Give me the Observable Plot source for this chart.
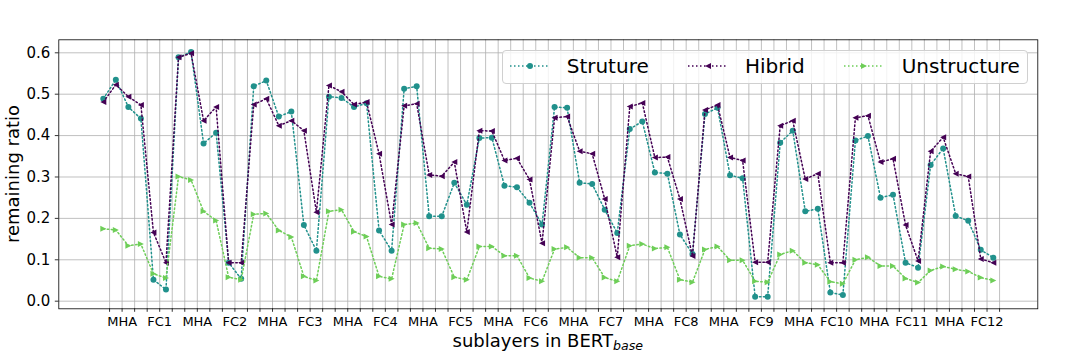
<!DOCTYPE html>
<html><head><meta charset="utf-8">
<script src="https://cdn.jsdelivr.net/npm/d3@7"></script>
<script src="https://cdn.jsdelivr.net/npm/@observablehq/plot@0.6"></script>
<style>
body{margin:0;background:#fff;}
#wrap{position:relative;width:1080px;height:360px;font-family:"DejaVu Sans",sans-serif;}
#legend{position:absolute;left:502px;top:50px;width:526px;height:34px;box-sizing:border-box;background:rgba(255,255,255,0.8);border:1px solid #d0d0d0;border-radius:4px;}
#legend svg{position:absolute;left:-1px;top:-1px;overflow:visible;}
</style></head><body><div id="wrap"><div id="legend"></div></div>
<script>
const series = ["Struture", "Hibrid", "Unstructure"];
const colors = ["#21918c", "#440154", "#6ece58"];
const sublayerLabels = ["", "MHA", "", "", "FC", ""];
const layerNames = ["1","2","3","4","5","6","7","8","9","10","11","12"];
const yTicks = [0.0, 0.1, 0.2, 0.3, 0.4, 0.5, 0.6];

const struture = [
  0.489,0.535,0.469,0.441,0.052,0.028,
  0.589,0.602,0.381,0.407,0.093,0.054,
  0.519,0.533,0.446,0.458,0.184,0.122,
  0.494,0.491,0.469,0.478,0.171,0.122,
  0.513,0.519,0.205,0.205,0.286,0.233,
  0.394,0.395,0.279,0.275,0.238,0.185,
  0.469,0.467,0.286,0.283,0.221,0.165,
  0.416,0.434,0.311,0.308,0.161,0.114,
  0.452,0.467,0.304,0.297,0.011,0.011,
  0.383,0.412,0.217,0.223,0.021,0.015,
  0.388,0.399,0.250,0.257,0.093,0.081,
  0.329,0.369,0.206,0.194,0.124,0.105];
const hibrid = [
  0.481,0.523,0.494,0.474,0.166,0.093,
  0.589,0.599,0.436,0.469,0.093,0.093,
  0.475,0.489,0.424,0.436,0.412,0.215,
  0.521,0.506,0.475,0.481,0.356,0.185,
  0.472,0.477,0.305,0.302,0.336,0.167,
  0.412,0.411,0.340,0.345,0.294,0.140,
  0.443,0.446,0.362,0.356,0.247,0.106,
  0.470,0.479,0.347,0.348,0.247,0.109,
  0.462,0.474,0.347,0.340,0.094,0.094,
  0.424,0.436,0.295,0.308,0.093,0.093,
  0.443,0.448,0.336,0.344,0.184,0.097,
  0.362,0.396,0.308,0.301,0.102,0.093];
const unstructure = [
  0.175,0.172,0.134,0.138,0.066,0.056,
  0.301,0.293,0.217,0.195,0.058,0.052,
  0.210,0.212,0.171,0.155,0.060,0.050,
  0.217,0.221,0.168,0.156,0.060,0.054,
  0.185,0.189,0.128,0.126,0.058,0.052,
  0.132,0.132,0.110,0.110,0.056,0.048,
  0.126,0.130,0.105,0.105,0.057,0.048,
  0.134,0.138,0.127,0.130,0.052,0.046,
  0.125,0.132,0.099,0.099,0.048,0.046,
  0.113,0.122,0.093,0.088,0.047,0.042,
  0.100,0.106,0.085,0.085,0.055,0.045,
  0.074,0.084,0.077,0.072,0.057,0.050];

const seriesValues = [struture, hibrid, unstructure];
const n = struture.length;
const rows = [];
seriesValues.forEach((vals, s) => vals.forEach((v, i) => rows.push({i, v, s: series[s]})));
const xTicks = d3.range(n).map(i => i + 0.5);
const tickLabel = t => {
  const i = Math.floor(t), lab = sublayerLabels[i % 6];
  return lab === "FC" ? "FC" + layerNames[Math.floor(i / 6)] : lab;
};

// custom triangle symbols (matplotlib "<" and ">")
const triLeft = {draw(ctx, size) { const h = Math.sqrt(size / Math.PI); ctx.moveTo(-h, 0); ctx.lineTo(h, -h); ctx.lineTo(h, h); ctx.closePath(); }};
const triRight = {draw(ctx, size) { const h = Math.sqrt(size / Math.PI); ctx.moveTo(h, 0); ctx.lineTo(-h, -h); ctx.lineTo(-h, h); ctx.closePath(); }};
const symbols = ["circle", triLeft, triRight];
const radii = [3, 3, 3];

const seriesMarks = series.flatMap((name, s) => {
  const data = rows.filter(d => d.s === name);
  return [
    Plot.line(data, {x: "i", y: "v", stroke: colors[s], strokeWidth: 1.5, strokeDasharray: "1.5,2.5"}),
    Plot.dot(data, {x: "i", y: "v", fill: colors[s], stroke: "none", r: radii[s], symbol: symbols[s]})
  ];
});

const chart = Plot.plot({
  width: 1080, height: 360,
  marginLeft: 58.3, marginRight: 42.7, marginTop: 39.3, marginBottom: 51.7,
  style: {fontFamily: '"DejaVu Sans", sans-serif', background: "#fff", color: "#000"},
  x: {domain: [-3.55, 74.55]},
  y: {domain: [-0.0184, 0.6314]},
  marks: [
    Plot.gridX(xTicks, {stroke: "#b0b0b0", strokeOpacity: 1, strokeWidth: 0.8}),
    Plot.gridY(yTicks, {stroke: "#b0b0b0", strokeOpacity: 1, strokeWidth: 0.8}),
    Plot.axisX(xTicks, {tickFormat: tickLabel, tickSize: 3.5, tickPadding: 4, fontSize: 13, label: null, strokeWidth: 0.8}),
    Plot.axisY(yTicks, {tickFormat: d3.format(".1f"), tickSize: 3.5, tickPadding: 5, fontSize: 15, label: null, strokeWidth: 0.8}),
    ...seriesMarks,
    Plot.frame({stroke: "#000", strokeWidth: 0.8})
  ]
});

const wrap = document.getElementById("wrap");
wrap.insertBefore(chart, wrap.firstChild);

const svg = d3.select(chart);
svg.append("text")
  .attr("transform", "translate(19,174) rotate(-90)")
  .attr("text-anchor", "middle")
  .attr("font-size", 18)
  .attr("fill", "#000")
  .text("remaining ratio");
const xl = svg.append("text")
  .attr("x", 547.8).attr("y", 346.7)
  .attr("text-anchor", "middle")
  .attr("font-size", 18)
  .attr("fill", "#000");
xl.append("tspan").text("sublayers in BERT");
xl.append("tspan").attr("font-size", 12.6).attr("font-style", "italic").attr("dy", 3.5).text("base");

// legend
const lg = d3.select("#legend").append("svg").attr("width", 526).attr("height", 34);
const sampleX = [8, 186, 342];
const textX = [64.7, 243, 399.7];
series.forEach((name, s) => {
  lg.append("line").attr("x1", sampleX[s]).attr("x2", sampleX[s] + 40).attr("y1", 16).attr("y2", 16)
    .attr("stroke", colors[s]).attr("stroke-width", 1.5).attr("stroke-dasharray", "1.5,2.5");
  const cx = sampleX[s] + 20, h = 3;
  if (s === 0) lg.append("circle").attr("cx", cx).attr("cy", 16).attr("r", h).attr("fill", colors[s]);
  else if (s === 1) lg.append("path").attr("d", `M${cx-h},16L${cx+h},${16-h}L${cx+h},${16+h}Z`).attr("fill", colors[s]);
  else lg.append("path").attr("d", `M${cx+h},16L${cx-h},${16-h}L${cx-h},${16+h}Z`).attr("fill", colors[s]);
  lg.append("text").attr("x", textX[s]).attr("y", 23.3).attr("font-size", 20).attr("fill", "#000")
    .style("font-family", '"DejaVu Sans", sans-serif').text(name);
});
</script>
</body></html>
